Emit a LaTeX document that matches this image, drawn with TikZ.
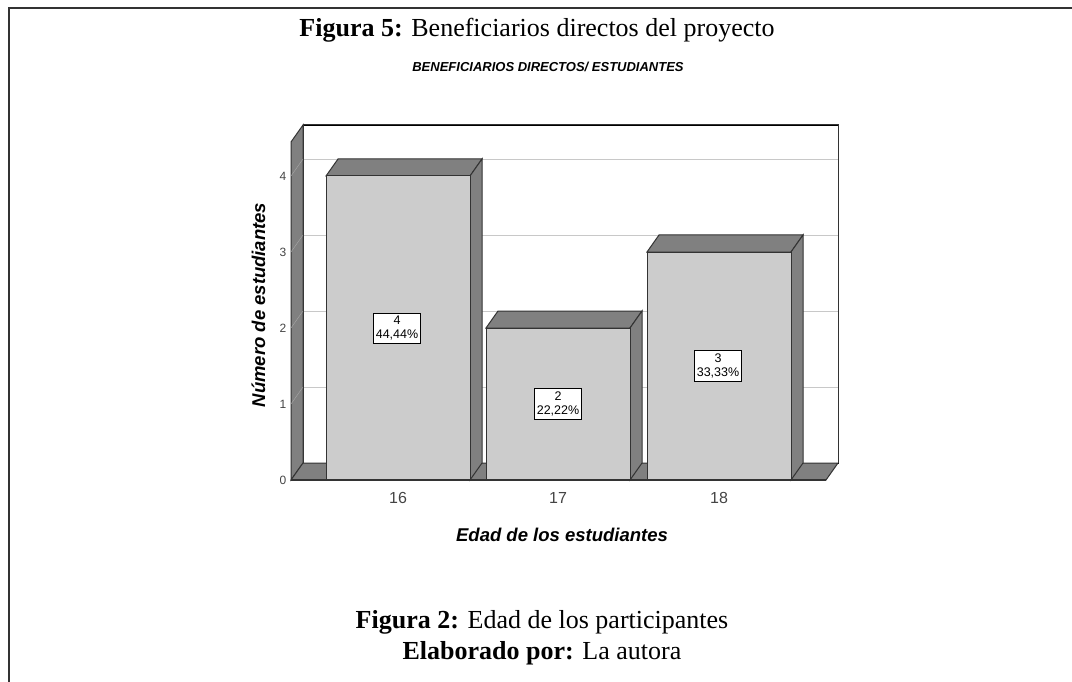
\documentclass[tikz,border=0pt]{standalone}
\usepackage{fontspec}
\setmainfont{Liberation Serif}
\setsansfont{Liberation Sans}
\definecolor{edgegray}{HTML}{333333}
\definecolor{frontgray}{HTML}{CCCCCC}
\definecolor{shadegray}{HTML}{808080}
\definecolor{gridgray}{HTML}{C8C8C8}
\definecolor{wallline}{HTML}{A8A8A8}
\definecolor{ticktext}{HTML}{444444}

\begin{document}
\begin{tikzpicture}[x=1pt, y=-1pt,
  chartline/.style={draw=edgegray, line width=1pt},
  barfront/.style={chartline, fill=frontgray},
  barshade/.style={chartline, fill=shadegray},
  valuebox/.style={draw=black, fill=white, line width=0.8pt, align=center,
    inner xsep=2pt, inner ysep=3pt, font=\sffamily\fontsize{12.5}{14}\selectfont},
  yticklab/.style={font=\sffamily\fontsize{12}{12}\selectfont, text=ticktext},
  xticklab/.style={font=\sffamily\fontsize{16}{16}\selectfont, text=ticktext, anchor=base},
  axistitle/.style={font=\sffamily\bfseries\itshape\fontsize{18.5}{18.5}\selectfont, anchor=base},
  captext/.style={font=\fontsize{26}{31}\selectfont, anchor=base}]
  \useasboundingbox (0,0) rectangle (1072,682);

  % page frame
  \draw[line width=2pt, color=edgegray] (8.5,682) -- (8.5,8.5) -- (1072,8.5);

  % titles
  \node[captext] (fig5cap) at (537,37) {\textbf{Figura 5:} Beneficiarios directos del proyecto};
  \node[font=\sffamily\bfseries\itshape\fontsize{13}{13}\selectfont, anchor=base] (charttitle) at (548,72) {BENEFICIARIOS DIRECTOS/ ESTUDIANTES};

  % back wall
  \draw[fill=white] (303,125) rectangle (838,463);
  \draw[color=gridgray] (303,159) -- (838,159); % 4
  \draw[color=gridgray] (303,235) -- (838,235); % 3
  \draw[color=gridgray] (303,311) -- (838,311); % 2
  \draw[color=gridgray] (303,387) -- (838,387); % 1
  \draw[chartline] (303,463) -- (303,125) -- (838,125) -- (838,463);

  % left wall
  \draw[barshade] (291,142) -- (303,125) -- (303,463) -- (291,480) -- cycle;
  \draw[color=wallline] (291,176) -- (303,159);
  \draw[color=wallline] (291,252) -- (303,235);
  \draw[color=wallline] (291,328) -- (303,311);
  \draw[color=wallline] (291,404) -- (303,387);

  % floor
  \draw[barshade] (291,480) -- (303,463) -- (838,463) -- (826,480) -- cycle;

  % bar 16
  \draw[barshade] (326,176) -- (338,159) -- (482,159) -- (470,176) -- cycle;
  \draw[barshade] (470,176) -- (482,159) -- (482,463) -- (470,480) -- cycle;
  \draw[barfront] (326,176) rectangle (470,480);

  % bar 17
  \draw[barshade] (486,328) -- (498,311) -- (642,311) -- (630,328) -- cycle;
  \draw[barshade] (630,328) -- (642,311) -- (642,463) -- (630,480) -- cycle;
  \draw[barfront] (486,328) rectangle (630,480);

  % bar 18
  \draw[barshade] (647,252) -- (659,235) -- (803,235) -- (791,252) -- cycle;
  \draw[barshade] (791,252) -- (803,235) -- (803,463) -- (791,480) -- cycle;
  \draw[barfront] (647,252) rectangle (791,480);

  % base line
  \draw[line width=1.2pt, color=edgegray] (291,480) -- (826,480);

  % value labels
  \node[valuebox] (val16) at (397,328) {4\\44,44\%};
  \node[valuebox] (val17) at (558,404) {2\\22,22\%};
  \node[valuebox] (val18) at (718,366) {3\\33,33\%};

  % y axis
  \node[yticklab] (ytick0) at (283,480) {0};
  \node[yticklab] (ytick1) at (283,404) {1};
  \node[yticklab] (ytick2) at (283,328) {2};
  \node[yticklab] (ytick3) at (283,252) {3};
  \node[yticklab] (ytick4) at (283,176) {4};
  \node[axistitle, rotate=90] (ytitle) at (265,305) {Número de estudiantes};

  % x axis
  \node[xticklab] (xtick16) at (398,503) {16};
  \node[xticklab] (xtick17) at (558,503) {17};
  \node[xticklab] (xtick18) at (719,503) {18};
  \node[axistitle] (xtitle) at (562,541) {Edad de los estudiantes};

  % captions
  \node[captext] (fig2cap) at (542,628) {\textbf{Figura 2:} Edad de los participantes};
  \node[captext] (elab) at (542,659) {\textbf{Elaborado por:} La autora};
\end{tikzpicture}
\end{document}
